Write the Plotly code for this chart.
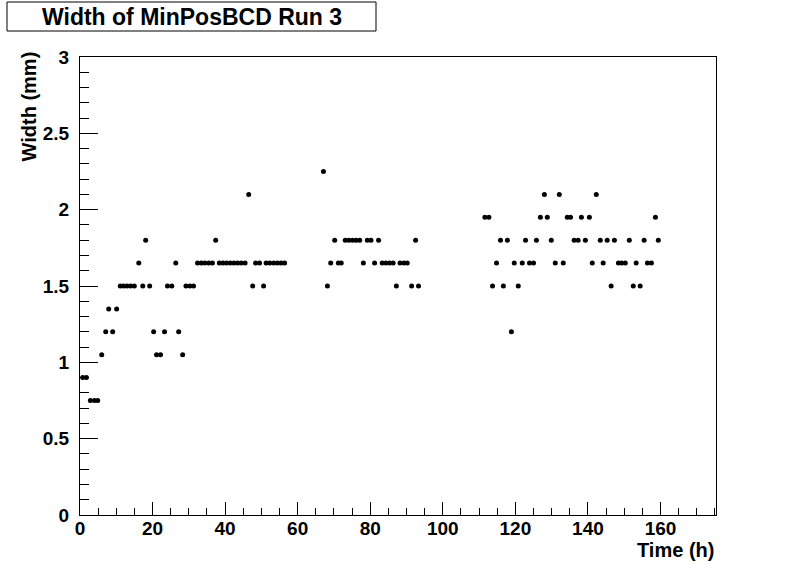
import plotly.graph_objects as go

# Data
time_h = [
    0.75, 1.76, 2.86, 3.97, 4.88, 5.98, 7.09, 7.91, 9.01, 10.1,
    11.1, 12.0, 12.96, 13.97, 14.98, 16.2, 17.3, 18.1, 19.2, 20.3,
    21.1, 22.2, 23.3, 24.1, 25.3, 26.4, 27.2, 28.3, 29.2, 30.3,
    31.3, 32.4, 33.4, 34.4, 35.5, 36.5, 37.4, 38.4, 39.4, 40.4,
    41.4, 42.4, 43.4, 44.4, 45.5, 46.5, 47.6, 48.4, 49.5, 50.6,
    51.3, 52.3, 53.4, 54.4, 55.4, 56.4,
    67.1, 68.2, 69.1, 70.2, 71.2, 72.0, 73.1, 74.1, 75.1, 76.1,
    77.1, 78.1, 79.2, 80.2, 81.2, 82.3, 83.3, 84.3, 85.3, 86.3,
    87.2, 88.2, 89.3, 90.2, 91.4, 92.5, 93.3,
    111.6, 112.7, 113.7, 114.8, 115.9, 116.7, 117.8, 118.9, 119.7, 120.8,
    121.9, 122.8, 123.9, 125.0, 125.8, 126.9, 128.0, 128.8, 129.9, 131.0,
    132.1, 133.2, 134.3, 135.2, 136.2, 137.3, 138.2, 139.3, 140.4, 141.2,
    142.3, 143.4, 144.2, 145.3, 146.4, 147.3, 148.4, 149.3, 150.3, 151.4,
    152.5, 153.3, 154.4, 155.5, 156.4, 157.5, 158.6, 159.4,
]
width_mm = [
    0.9, 0.9, 0.75, 0.75, 0.75, 1.05, 1.2, 1.35, 1.2, 1.35,
    1.5, 1.5, 1.5, 1.5, 1.5, 1.65, 1.5, 1.8, 1.5, 1.2,
    1.05, 1.05, 1.2, 1.5, 1.5, 1.65, 1.2, 1.05, 1.5, 1.5,
    1.5, 1.65, 1.65, 1.65, 1.65, 1.65, 1.8, 1.65, 1.65, 1.65,
    1.65, 1.65, 1.65, 1.65, 1.65, 2.1, 1.5, 1.65, 1.65, 1.5,
    1.65, 1.65, 1.65, 1.65, 1.65, 1.65,
    2.25, 1.5, 1.65, 1.8, 1.65, 1.65, 1.8, 1.8, 1.8, 1.8,
    1.8, 1.65, 1.8, 1.8, 1.65, 1.8, 1.65, 1.65, 1.65, 1.65,
    1.5, 1.65, 1.65, 1.65, 1.5, 1.8, 1.5,
    1.95, 1.95, 1.5, 1.65, 1.8, 1.5, 1.8, 1.2, 1.65, 1.5,
    1.65, 1.8, 1.65, 1.65, 1.8, 1.95, 2.1, 1.95, 1.8, 1.65,
    2.1, 1.65, 1.95, 1.95, 1.8, 1.8, 1.95, 1.8, 1.95, 1.65,
    2.1, 1.8, 1.65, 1.8, 1.5, 1.8, 1.65, 1.65, 1.65, 1.8,
    1.5, 1.65, 1.5, 1.8, 1.65, 1.65, 1.95, 1.8,
]

title_text = "Width of MinPosBCD Run 3"
x_title = "Time (h)"
y_title = "Width (mm)"

W, H = 796, 572
L, R, T, B = 80, 80, 57, 57
pw, ph = W - L - R, H - T - B


def px_x(p):
    return (p - L) / pw


def px_y(p):
    return (H - B - p) / ph


FONT = "Liberation Sans, Arial, Helvetica, sans-serif"

fig = go.Figure()
fig.add_trace(go.Scatter(
    x=time_h, y=width_mm, mode="markers",
    marker=dict(color="black", size=5, symbol="circle"),
    showlegend=False, hoverinfo="x+y",
))

axis_common = dict(
    showgrid=False, zeroline=False, showline=True, mirror=True,
    linecolor="black", linewidth=1, ticks="inside", tickcolor="black",
    tickwidth=1,
    tickfont=dict(family=FONT, size=19, color="black", weight="bold"),
)

fig.update_layout(
    width=W, height=H,
    margin=dict(l=L, r=R, t=T, b=B, pad=0),
    paper_bgcolor="white", plot_bgcolor="white",
    xaxis=dict(range=[0, 175.3], tick0=0, dtick=20, ticklen=13,
               minor=dict(ticks="inside", dtick=5, ticklen=7, tickcolor="black", tickwidth=1),
               ticklabelstandoff=-4,
               **axis_common),
    yaxis=dict(range=[0, 3], tick0=0, dtick=0.5, ticklen=18,
               minor=dict(ticks="inside", dtick=0.1, ticklen=9, tickcolor="black", tickwidth=1),
               ticklabelstandoff=6,
               **axis_common),
    shapes=[dict(type="rect", xref="paper", yref="paper",
                 x0=px_x(7), x1=px_x(376), y0=px_y(31), y1=px_y(2),
                 line=dict(color="black", width=1), fillcolor="white")],
    annotations=[
        dict(text=title_text, xref="paper", yref="paper",
             x=px_x(191.5), y=px_y(16.5), xanchor="center", yanchor="middle",
             showarrow=False,
             font=dict(family=FONT, size=23, color="black", weight="bold")),
        dict(text=x_title, xref="paper", yref="paper",
             x=1, y=px_y(550), xanchor="right", yanchor="middle",
             showarrow=False,
             font=dict(family=FONT, size=20, color="black", weight="bold")),
        dict(text=y_title, xref="paper", yref="paper",
             x=px_x(28.5), y=px_y(50), xanchor="center", yanchor="top",
             textangle=-90, showarrow=False,
             font=dict(family=FONT, size=20, color="black", weight="bold")),
    ],
)

fig.write_html(
    "out.html",
    config={"displayModeBar": False},
    post_script="document.body.style.margin='0';document.body.style.padding='0';",
)
